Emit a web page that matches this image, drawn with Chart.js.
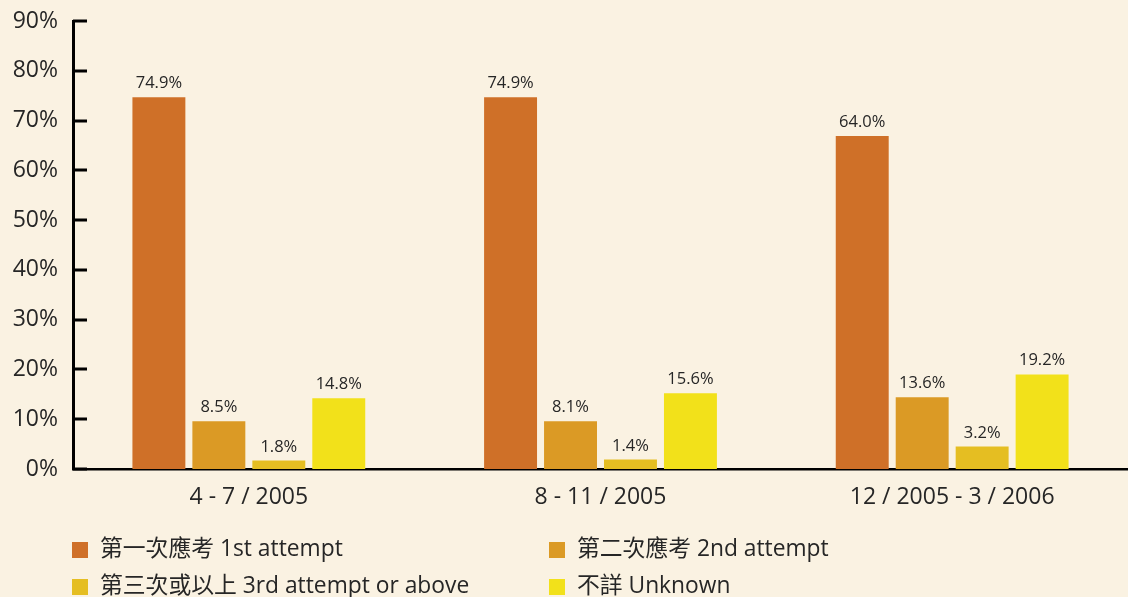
<!DOCTYPE html>
<html>
<head>
<meta charset="utf-8">
<script src="https://cdn.jsdelivr.net/npm/chart.js@4"></script>
<style>
  html, body { margin: 0; padding: 0; background: #faf2e2; }
  #wrap { width: 1128px; height: 597px; position: relative; }
</style>
</head>
<body>
<div id="wrap"><canvas id="attemptChart"></canvas></div>
<script>
// Periods on the x axis
const categories = ['4 - 7 / 2005', '8 - 11 / 2005', '12 / 2005 - 3 / 2006'];

// Series names
const seriesNames = ['第一次應考 1st attempt', '第二次應考 2nd attempt', '第三次或以上 3rd attempt or above', '不詳 Unknown'];

// Bar heights as drawn (%)
const firstAttempt = [74.7, 74.7, 66.9];
const secondAttempt = [9.6, 9.6, 14.4];
const thirdAttempt = [1.7, 1.9, 4.5];
const unknown = [14.2, 15.2, 19.0];

// Printed value labels above the bars
const firstLabels = ['74.9%', '74.9%', '64.0%'];
const secondLabels = ['8.5%', '8.1%', '13.6%'];
const thirdLabels = ['1.8%', '1.4%', '3.2%'];
const unknownLabels = ['14.8%', '15.6%', '19.2%'];

// Y axis ticks
const yTicks = [0, 10, 20, 30, 40, 50, 60, 70, 80, 90];

const colors = ['#cf7028', '#db9a25', '#e5be22', '#f2e11a'];
const FONT = '"Open Sans", "Noto Sans", "Noto Sans CJK TC", sans-serif';
const TEXT = '#262626';

// value labels on top of each bar
const valueLabels = {
    id: 'valueLabels',
    afterDatasetsDraw(chart) {
        const ctx = chart.ctx;
        ctx.save();
        ctx.font = '16.5px ' + FONT;
        ctx.fillStyle = TEXT;
        ctx.textAlign = 'center';
        ctx.textBaseline = 'alphabetic';
        chart.data.datasets.forEach((ds, i) => {
            chart.getDatasetMeta(i).data.forEach((bar, j) => {
                ctx.fillText(ds.valueLabels[j], bar.x, bar.y - 9);
            });
        });
        ctx.restore();
    }
};

// inward tick marks on the y axis
const innerTicks = {
    id: 'innerTicks',
    afterDraw(chart) {
        const ctx = chart.ctx;
        const y = chart.scales.y;
        ctx.save();
        ctx.strokeStyle = '#000';
        ctx.lineWidth = 3;
        yTicks.forEach(v => {
            const py = Math.round(y.getPixelForValue(v));
            ctx.beginPath();
            ctx.moveTo(chart.chartArea.left, py);
            ctx.lineTo(chart.chartArea.left + 14, py);
            ctx.stroke();
        });
        ctx.restore();
    }
};

// legend in two columns below the chart
const gridLegend = {
    id: 'gridLegend',
    afterDraw(chart) {
        const ctx = chart.ctx;
        const cols = [72, 549];
        const rows = [550, 587];
        ctx.save();
        ctx.font = '22.8px ' + FONT;
        ctx.textBaseline = 'middle';
        chart.data.datasets.forEach((ds, i) => {
            const x = cols[i % 2];
            const y = rows[Math.floor(i / 2)];
            ctx.fillStyle = ds.backgroundColor;
            ctx.fillRect(x, y - 8, 16, 16);
            ctx.fillStyle = TEXT;
            ctx.fillText(ds.label, x + 28, y);
        });
        ctx.restore();
    }
};

const seriesData = [firstAttempt, secondAttempt, thirdAttempt, unknown];
const seriesLabels = [firstLabels, secondLabels, thirdLabels, unknownLabels];

new Chart(document.getElementById('attemptChart'), {
    type: 'bar',
    data: {
        labels: categories,
        datasets: seriesNames.map((name, i) => ({
            label: name,
            data: seriesData[i],
            valueLabels: seriesLabels[i],
            backgroundColor: colors[i],
            borderWidth: 0,
            categoryPercentage: 0.682,
            barPercentage: 0.883
        }))
    },
    options: {
        responsive: true,
        maintainAspectRatio: false,
        animation: false,
        layout: { padding: { top: 21, right: 0, bottom: 0, left: 0 } },
        plugins: {
            legend: { display: false },
            tooltip: { enabled: false }
        },
        scales: {
            x: {
                grid: { display: false, drawTicks: false },
                border: { display: true, color: '#000', width: 2.5 },
                ticks: {
                    color: TEXT,
                    font: { family: FONT, size: 23 },
                    padding: 15,
                    maxRotation: 0
                },
                afterFit(scale) { scale.height = 128; }
            },
            y: {
                min: 0,
                max: 90,
                afterBuildTicks(scale) { scale.ticks = yTicks.map(v => ({ value: v })); },
                grid: { display: false, drawTicks: false },
                border: { display: true, color: '#000', width: 3 },
                ticks: {
                    color: TEXT,
                    font: { family: FONT, size: 23 },
                    padding: 15,
                    callback: v => v + '%'
                },
                afterFit(scale) {
                    scale.width = 73;
                    scale.paddingTop = 0;
                    scale.paddingBottom = 0;
                }
            }
        }
    },
    plugins: [valueLabels, innerTicks, gridLegend]
});
</script>
</body>
</html>
